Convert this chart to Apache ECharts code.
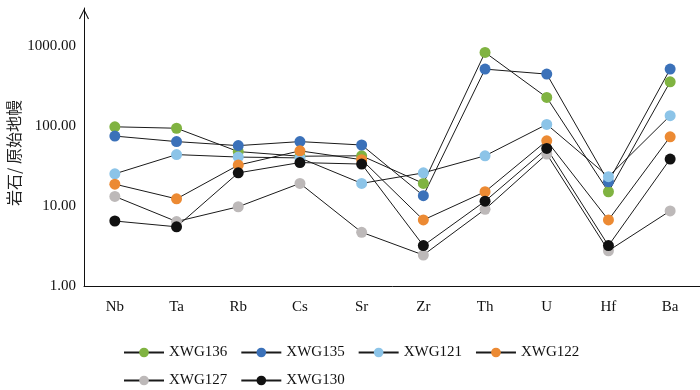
<!DOCTYPE html>
<html>
<head>
<meta charset="utf-8">
<script src="https://cdn.jsdelivr.net/npm/echarts@6/dist/echarts.min.js"></script>
<style>html,body{margin:0;padding:0;background:#fff}#chart{width:700px;height:390px}</style>
</head>
<body>
<div id="chart"></div>
<script>
const elements = ["Nb", "Ta", "Rb", "Cs", "Sr", "Zr", "Th", "U", "Hf", "Ba"];
const yTicks = [1, 10, 100, 1000];
const sampleNames = ["XWG136", "XWG135", "XWG121", "XWG122", "XWG127", "XWG130"];
const xwg136 = [98, 94, 48, 42, 42.5, 19.2, 834, 228, 15.1, 358];
const xwg135 = [75, 64, 57, 64, 58, 13.5, 516, 447, 20.1, 516];
const xwg121 = [25.3, 44, 41, 40, 19.2, 26, 42.5, 105, 23.3, 135];
const xwg122 = [18.8, 12.3, 32.5, 49, 38, 6.7, 15.1, 65.5, 6.7, 73.5];
const xwg127 = [13.2, 6.4, 9.8, 19.2, 4.7, 2.44, 9.1, 44.7, 2.76, 8.7];
const xwg130 = [6.5, 5.5, 26, 35, 33.5, 3.2, 11.5, 52.6, 3.2, 38.7];
const sampleValues = [xwg136, xwg135, xwg121, xwg122, xwg127, xwg130];
const markerColors = ["#80b341", "#3b71b9", "#8cc4e8", "#ec8a33", "#bdb9b9", "#111111"];

const serif = "'Liberation Serif', 'DejaVu Serif', serif";
const chart = echarts.init(document.getElementById("chart"));
chart.setOption({
  animation: false,
  grid: { left: 84, width: 617, top: 8, bottom: 104, outerBoundsMode: "none", containLabel: false },
  legend: {
    left: 118, top: 340, width: 480,
    itemWidth: 40, itemHeight: 12, itemGap: 13,
    textStyle: { fontFamily: serif, fontSize: 15, color: "#111" },
    data: sampleNames,
  },
  xAxis: {
    type: "category",
    data: elements,
    axisLine: { lineStyle: { color: "#111", width: 1 } },
    axisTick: { alignWithLabel: true, inside: true, length: 10, lineStyle: { color: "#111" } },
    axisLabel: { fontFamily: serif, fontSize: 15, color: "#111", margin: 14 },
  },
  yAxis: {
    type: "log",
    logBase: 10,
    min: 1,
    max: 3000,
    name: "岩石/ 原始地幔",
    nameLocation: "middle",
    nameRotate: 90,
    nameGap: 62,
    nameMoveOverlap: false,
    nameTextStyle: { fontFamily: "'Noto Sans CJK SC'", fontSize: 16, color: "#222", padding: [0, 12, 0, 0] },
    axisLine: {
      show: true,
      lineStyle: { color: "#111", width: 1 },
      symbol: ["none", "path://M0,10 L5,0 L10,10 L9,10.6 L5,2.2 L1,10.6 Z"],
      symbolSize: [10, 12],
      symbolOffset: [0, -6],
    },
    axisTick: { show: false },
    splitLine: { show: false },
    axisLabel: {
      fontFamily: serif, fontSize: 15, color: "#111", margin: 8,
      showMaxLabel: false,
      formatter: v => yTicks.includes(Math.round(v)) ? Number(v).toFixed(2) : "",
    },
  },
  series: sampleNames.map((name, i) => ({
    name,
    type: "line",
    data: sampleValues[i],
    symbol: "circle",
    symbolSize: 11,
    showSymbol: true,
    itemStyle: { color: markerColors[i] },
    lineStyle: { color: "#1a1a1a", width: 1 },
  })),
});
</script>
</body>
</html>
